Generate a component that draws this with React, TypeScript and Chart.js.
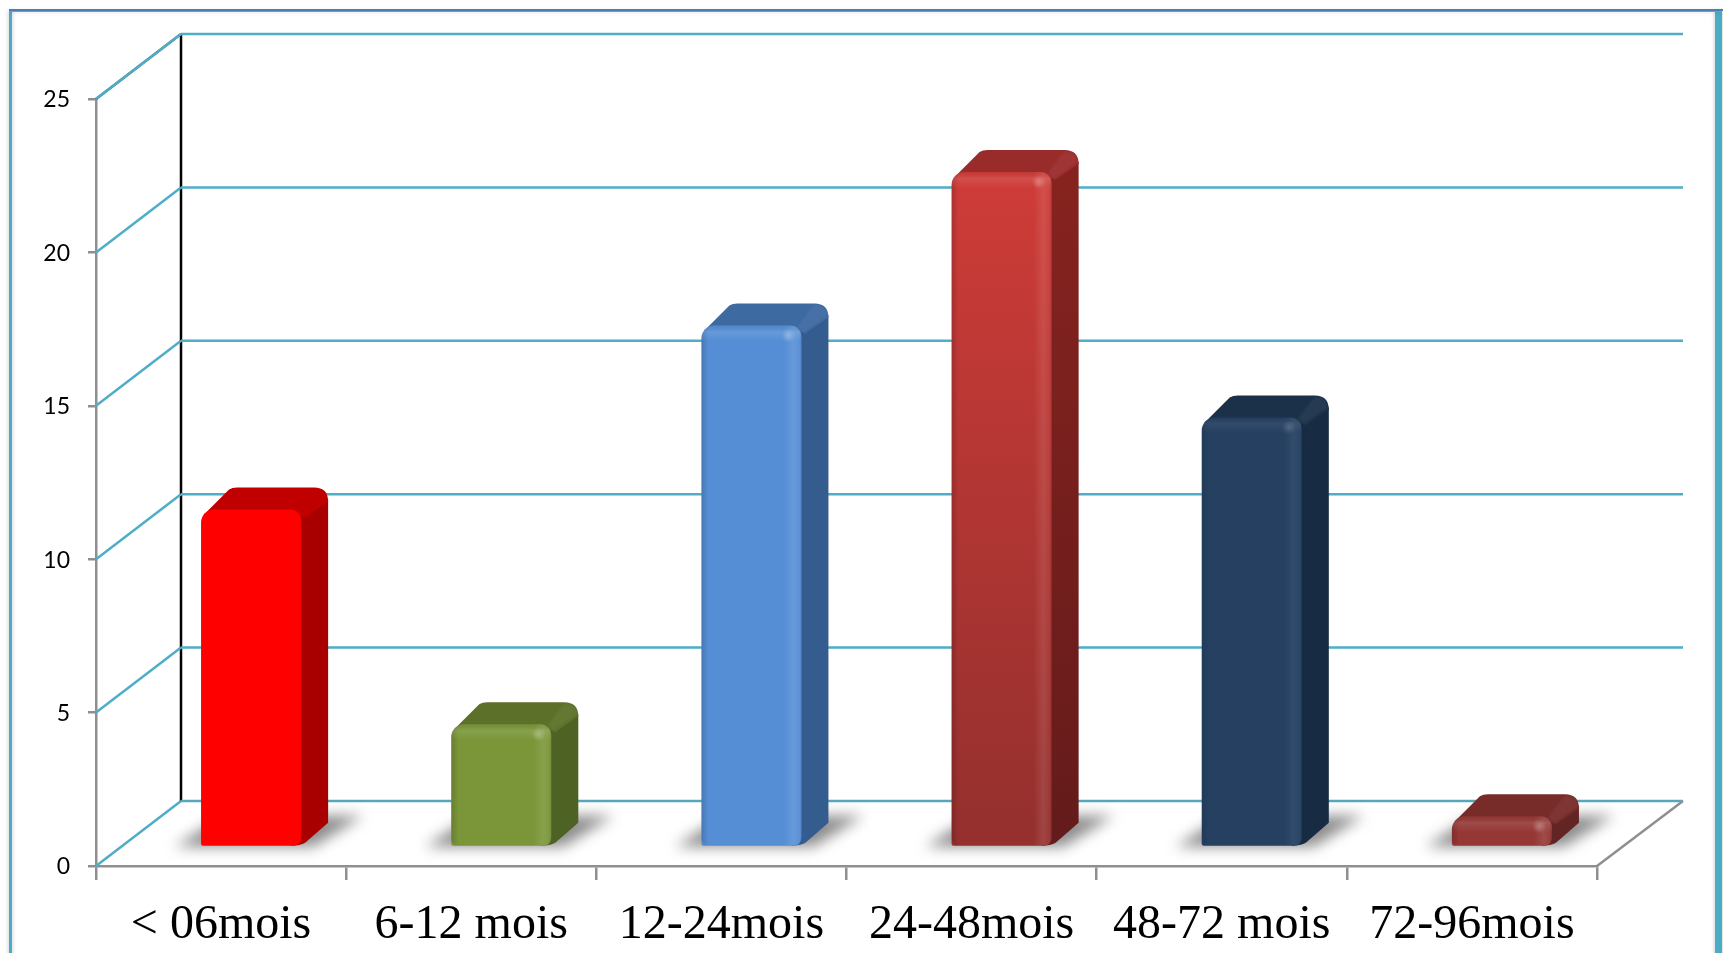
import React, { useEffect, useRef } from "react";
import { Chart, registerables } from "chart.js";

Chart.register(...registerables);

const categories = ["< 06mois", "6-12 mois", "12-24mois", "24-48mois", "48-72 mois", "72-96mois"];
const values = [11, 4, 17, 22, 14, 1];
const yTicks = [0, 5, 10, 15, 20, 25];
const frontTop = ["#ff0000", "#7a9639", "#558ed5", "#d03c38", "#254061", "#953735"];
const frontBottom = ["#ff0000", "#7a9639", "#558ed5", "#95302e", "#254061", "#953735"];
const sideTop = ["#a80000", "#4e6224", "#345c8e", "#86231f", "#172b42", "#632523"];
const sideBottom = ["#a80000", "#4e6224", "#345c8e", "#641b1b", "#172b42", "#632523"];
const topFace = ["#c00000", "#5c7029", "#3e6aa2", "#9a2b2b", "#1b3049", "#772c2a"];
const shading = [0, 1, 1, 1, 0.6, 1];

const TEAL = "#4fadc8";
const GREY = "#8f8f8f";
const WALL_DX = 85;
const WALL_DY = 65;
const BAR_DX = 30;
const BAR_DY = 19;
const SIDE_DX = 27;
const SIDE_DY = 22;
const SIDE_BOTTOM_DY = 23;

function line(ctx: CanvasRenderingContext2D, x0: number, y0: number, x1: number, y1: number, color: string, w: number) {
  ctx.strokeStyle = color;
  ctx.lineWidth = w;
  ctx.beginPath();
  ctx.moveTo(x0, y0);
  ctx.lineTo(x1, y1);
  ctx.stroke();
}

const framePlugin = {
  id: "frame",
  beforeDraw(chart: any) {
    const { ctx, width, height } = chart;
    ctx.save();
    ctx.fillStyle = "#ffffff";
    ctx.fillRect(0, 0, width, height);
    ctx.shadowColor = "rgba(0,0,0,0.25)";
    ctx.shadowBlur = 4;
    ctx.fillStyle = "#4bacc6";
    ctx.fillRect(9, 11, 3, height);
    ctx.fillRect(width - 8, 11, 7, height);
    ctx.fillRect(9, 11, width - 10, 1);
    ctx.shadowBlur = 0;
    ctx.fillStyle = "#4a7ebb";
    ctx.fillRect(9, 9, width - 9, 2);
    ctx.restore();
  },
};

const wallPlugin = {
  id: "wall",
  beforeDatasetsDraw(chart: any) {
    const { ctx, chartArea, scales } = chart;
    const { left, right } = chartArea;
    ctx.save();
    const yS = scales.y;
    line(ctx, left + WALL_DX, yS.getPixelForValue(25) - WALL_DY, left + WALL_DX, yS.getPixelForValue(0) - WALL_DY, "#000000", 2.5);
    line(ctx, left, yS.getPixelForValue(25), left + WALL_DX, yS.getPixelForValue(25) - WALL_DY, "#555555", 2.5);
    for (const v of yTicks) {
      const y = yS.getPixelForValue(v);
      line(ctx, left, y, left + WALL_DX, y - WALL_DY, TEAL, 2.5);
      line(ctx, left + WALL_DX, y - WALL_DY, right + WALL_DX + 1, y - WALL_DY, v === 0 ? "#58a6ba" : TEAL, 2.5);
    }
    const y0 = yS.getPixelForValue(0);
    line(ctx, right, y0, right + WALL_DX + 1, y0 - WALL_DY, GREY, 2.5);
    ctx.restore();
  },
};

const bar3dPlugin = {
  id: "bar3d",
  beforeDatasetDraw(chart: any, args: any) {
    const { ctx } = chart;
    ctx.save();
    ctx.translate(BAR_DX, -BAR_DY);
    const bars = chart.getDatasetMeta(args.index).data;
    bars.forEach((el: any) => {
      const x0 = el.x - el.width / 2;
      const x1 = el.x + el.width / 2;
      const b = el.base;
      ctx.save();
      ctx.filter = "blur(7px)";
      ctx.fillStyle = "#8c8c8c";
      ctx.beginPath();
      ctx.moveTo(x0 - 26, b + 1);
      ctx.lineTo(x1 + 12, b + 1);
      ctx.lineTo(x1 + 62, b - 30);
      ctx.lineTo(x0 + 22, b - 30);
      ctx.closePath();
      ctx.fill();
      ctx.restore();
    });
    bars.forEach((el: any, i: number) => {
      const x0 = el.x - el.width / 2;
      const x1 = el.x + el.width / 2;
      const t = el.y;
      const b = el.base;
      const sg = ctx.createLinearGradient(0, t, 0, b);
      sg.addColorStop(0, sideTop[i]);
      sg.addColorStop(1, sideBottom[i]);
      ctx.fillStyle = sg;
      ctx.beginPath();
      ctx.moveTo(x1 - 6, t);
      ctx.lineTo(x1 + SIDE_DX - 10, t - SIDE_DY + 4);
      ctx.lineTo(x1 + SIDE_DX, t - SIDE_DY + 12);
      ctx.lineTo(x1 + SIDE_DX, b - SIDE_BOTTOM_DY);
      ctx.lineTo(x1 + 4, b - 3);
      ctx.quadraticCurveTo(x1 - 1, b, x1 - 10, b);
      ctx.closePath();
      ctx.fill();
      ctx.fillStyle = topFace[i];
      ctx.beginPath();
      ctx.moveTo(x0 + 2, t + 8);
      ctx.quadraticCurveTo(x0 + 3, t + 4, x0 + 7, t + 1);
      ctx.lineTo(x0 + 28, t - SIDE_DY + 2);
      ctx.quadraticCurveTo(x0 + 31, t - SIDE_DY, x0 + 36, t - SIDE_DY);
      ctx.lineTo(x1 + SIDE_DX - 14, t - SIDE_DY);
      ctx.quadraticCurveTo(x1 + SIDE_DX, t - SIDE_DY, x1 + SIDE_DX, t - SIDE_DY + 14);
      ctx.lineTo(x1 + 4, t + 8);
      ctx.lineTo(x1 - 6, t + 4);
      ctx.lineTo(x0 + 10, t + 4);
      ctx.closePath();
      ctx.fill();
      if (shading[i] > 0) {
        ctx.save();
        ctx.filter = "blur(1px)";
        ctx.fillStyle = "rgba(255,255,255,0.05)";
        ctx.beginPath();
        ctx.moveTo(x1 - 4, t + 1);
        ctx.lineTo(x1 + SIDE_DX - 14, t - SIDE_DY + 1);
        ctx.quadraticCurveTo(x1 + SIDE_DX - 2, t - SIDE_DY + 1, x1 + SIDE_DX - 1, t - SIDE_DY + 12);
        ctx.lineTo(x1 + 2, t + 7);
        ctx.closePath();
        ctx.fill();
        ctx.restore();
      }
    });
  },
  afterDatasetDraw(chart: any, args: any) {
    const { ctx } = chart;
    const bars = chart.getDatasetMeta(args.index).data;
    bars.forEach((el: any, i: number) => {
      const k = shading[i];
      if (!k) return;
      const x0 = el.x - el.width / 2;
      const x1 = el.x + el.width / 2;
      const t = el.y;
      const b = el.base;
      const h = b - t;
      ctx.save();
      ctx.beginPath();
      ctx.roundRect(x0, t, x1 - x0, h, [13, 11, 2, 8]);
      ctx.clip();
      const lg = ctx.createLinearGradient(x0, 0, x0 + 7, 0);
      lg.addColorStop(0, `rgba(0,0,0,${0.16 * k})`);
      lg.addColorStop(1, "rgba(0,0,0,0)");
      ctx.fillStyle = lg;
      ctx.fillRect(x0, t, 7, h);
      const rg = ctx.createLinearGradient(x1 - 18, 0, x1, 0);
      rg.addColorStop(0, "rgba(255,255,255,0)");
      rg.addColorStop(0.55, `rgba(255,255,255,${0.1 * k})`);
      rg.addColorStop(0.85, `rgba(255,255,255,${0.05 * k})`);
      rg.addColorStop(1, "rgba(0,0,0,0.08)");
      ctx.fillStyle = rg;
      ctx.fillRect(x1 - 18, t, 18, h);
      const tg = ctx.createLinearGradient(0, t, 0, t + 16);
      tg.addColorStop(0, "rgba(0,0,0,0.05)");
      tg.addColorStop(0.4, `rgba(255,255,255,${0.1 * k})`);
      tg.addColorStop(1, "rgba(255,255,255,0)");
      ctx.fillStyle = tg;
      ctx.fillRect(x0, t, x1 - x0, 16);
      const hg = ctx.createRadialGradient(x1 - 13, t + 10, 0, x1 - 13, t + 10, 7);
      hg.addColorStop(0, `rgba(255,255,255,${0.25 * k})`);
      hg.addColorStop(1, "rgba(255,255,255,0)");
      ctx.fillStyle = hg;
      ctx.fillRect(x1 - 22, t + 2, 18, 18);
      ctx.restore();
    });
    ctx.restore();
  },
};

export default function App() {
  const ref = useRef<HTMLCanvasElement>(null);
  useEffect(() => {
    document.body.style.margin = "0";
    const chart = new Chart(ref.current as HTMLCanvasElement, {
      type: "bar",
      data: {
        labels: categories,
        datasets: [
          {
            data: values,
            clip: false as any,
            barPercentage: 0.4,
            categoryPercentage: 1,
            borderSkipped: false,
            borderWidth: 0,
            borderRadius: { topLeft: 13, topRight: 11, bottomLeft: 2, bottomRight: 8 },
            backgroundColor: (c: any) => {
              const i = c.dataIndex;
              const area = c.chart.chartArea;
              if (!area || frontTop[i] === frontBottom[i]) return frontTop[i];
              const el = c.chart.scales.y;
              const g = c.chart.ctx.createLinearGradient(0, el.getPixelForValue(values[i]) - BAR_DY, 0, el.getPixelForValue(0) - BAR_DY);
              g.addColorStop(0, frontTop[i]);
              g.addColorStop(1, frontBottom[i]);
              return g;
            },
          } as any,
        ],
      },
      options: {
        responsive: false,
        animation: false,
        devicePixelRatio: 1,
        layout: { padding: { top: 99, right: 126, left: 0, bottom: 0 } },
        plugins: { legend: { display: false }, tooltip: { enabled: false }, title: { display: false } },
        scales: {
          x: {
            afterFit: (s: any) => {
              s.height = 87;
            },
            border: { display: true, color: GREY, width: 2.5 },
            grid: { offset: true, drawOnChartArea: false, drawTicks: true, tickLength: 14, color: GREY, tickColor: GREY, lineWidth: 2.5 },
            ticks: {
              autoSkip: false,
              maxRotation: 0,
              padding: 17,
              color: "#000000",
              font: { family: "'Liberation Serif'", size: 48 },
            },
          },
          y: {
            min: 0,
            max: 25,
            afterFit: (s: any) => {
              s.width = 96;
            },
            afterBuildTicks: (s: any) => {
              s.ticks = yTicks.map((value) => ({ value }));
            },
            border: { display: true, color: GREY, width: 2.5 },
            grid: { drawOnChartArea: false, drawTicks: true, tickLength: 8, color: GREY, tickColor: GREY, lineWidth: 2.5 },
            ticks: {
              padding: 18,
              labelOffset: 1,
              color: "#000000",
              font: { family: "Lato", size: 23 },
            },
          },
        },
      },
      plugins: [framePlugin, wallPlugin, bar3dPlugin],
    } as any);
    return () => chart.destroy();
  }, []);
  return <canvas ref={ref} width={1723} height={953} style={{ display: "block", width: 1723, height: 953 }} />;
}
